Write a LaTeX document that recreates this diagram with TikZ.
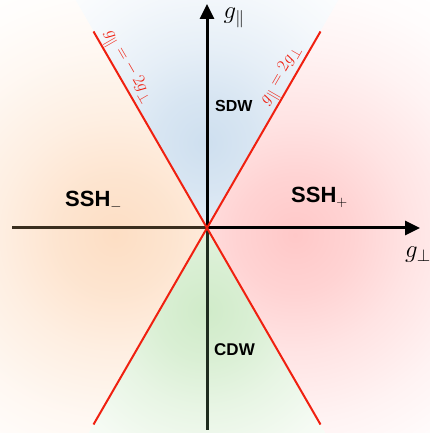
\documentclass[tikz,border=0pt]{standalone}
\usepackage{fontspec}
\newfontfamily\hfont{Liberation Sans}
\usetikzlibrary{arrows.meta}
\definecolor{cblue}{HTML}{CEDFEF}
\definecolor{cred}{HTML}{FFC8C8}
\definecolor{corange}{HTML}{FDDEC4}
\definecolor{cgreen}{HTML}{D0EBC9}
\definecolor{axbrown}{HTML}{3A2E1E}
\definecolor{axgreen}{HTML}{1E2C1E}
\definecolor{lred}{HTML}{F02010}
\pgfdeclareradialshading{glowblue}{\pgfpoint{0bp}{0bp}}{color(0bp)=(cblue); color(5bp)=(cblue!80!white); color(10bp)=(cblue!50!white); color(16bp)=(cblue!22!white); color(21bp)=(cblue!6!white); color(25bp)=(white); color(50bp)=(white)}
\pgfdeclareradialshading{glowred}{\pgfpoint{0bp}{0bp}}{color(0bp)=(cred); color(5bp)=(cred!80!white); color(10bp)=(cred!50!white); color(16bp)=(cred!22!white); color(21bp)=(cred!6!white); color(25bp)=(white); color(50bp)=(white)}
\pgfdeclareradialshading{gloworange}{\pgfpoint{0bp}{0bp}}{color(0bp)=(corange); color(5bp)=(corange!80!white); color(10bp)=(corange!50!white); color(16bp)=(corange!22!white); color(21bp)=(corange!6!white); color(25bp)=(white); color(50bp)=(white)}
\pgfdeclareradialshading{glowgreen}{\pgfpoint{0bp}{0bp}}{color(0bp)=(cgreen); color(5bp)=(cgreen!80!white); color(10bp)=(cgreen!50!white); color(16bp)=(cgreen!22!white); color(21bp)=(cgreen!6!white); color(25bp)=(white); color(50bp)=(white)}
\tikzset{
  axis/.style={line width=3pt,-{Triangle[length=15pt,width=14pt]}},
  axseg/.style={line width=3pt},
  redline/.style={draw=lred,line width=2pt},
  phase/.style={font=\hfont\bfseries,anchor=base west,inner sep=0pt},
  redlab/.style={text=lred,font=\fontsize{19}{19}\selectfont,inner sep=0pt},
  axlab/.style={font=\fontsize{24}{24}\selectfont,inner sep=0pt}
}
\begin{document}
\begin{tikzpicture}[x=1pt,y=1pt]
\fill[white] (0,0) rectangle (429,433);
\useasboundingbox (0,0) rectangle (429,433);
\coordinate (O) at (207,205);
% wedges with shading
\begin{scope}
\clip (O) -- ++(300,520) -- ++(-600,0) -- cycle;
\shade[shading=glowblue] (205,290) circle (240);
\end{scope}
\begin{scope}
\clip (O) -- ++(300,520) -- ++(300,-520) -- ++(-300,-520) -- cycle;
\shade[shading=glowred] (295,198) circle (290);
\end{scope}
\begin{scope}
\clip (O) -- ++(-300,520) -- ++(-300,-520) -- ++(300,-520) -- cycle;
\shade[shading=gloworange] (115,198) circle (290);
\end{scope}
\begin{scope}
\clip (O) -- ++(-300,-520) -- ++(600,0) -- cycle;
\shade[shading=glowgreen] (205,122) circle (240);
\end{scope}
% axes
\coordinate (hl) at (12,205);
\coordinate (hr) at (420,205);
\coordinate (vb) at (207,3);
\coordinate (vt) at (207,429);
\draw[axseg,color=axbrown] (hl) -- (O);
\draw[axis] (O) -- (hr);
\draw[axseg,color=axgreen] (vb) -- (O);
\draw[axis] (O) -- (vt);
% red lines
\coordinate (tr) at (320.5,401.5);
\coordinate (bl) at (93.5,8.5);
\coordinate (tl) at (93.5,401.5);
\coordinate (br) at (320.5,8.5);
\draw[redline] (bl) -- (tr);
\draw[redline] (br) -- (tl);
% labels
\node[axlab] (gpar) at (234,415) {$g_\parallel$};
\node[axlab] (gperp) at (418,178) {$g_\perp$};
\node[redlab,rotate=60] (l1) at (282,357) {$g_\parallel = 2g_\perp$};
\node[redlab,rotate=-60] (l2) at (127,366) {$g_\parallel = -\,2g_\perp$};
\node[phase,font=\hfont\bfseries\fontsize{16}{16}\selectfont] (sdw) at (215,321) {SDW};
\node[phase,font=\hfont\bfseries\fontsize{17}{17}\selectfont] (cdw) at (214,77) {CDW};
\node[phase,font=\hfont\bfseries\fontsize{22}{22}\selectfont] (sshp) at (291,230) {SSH$_{+}$};
\node[phase,font=\hfont\bfseries\fontsize{22}{22}\selectfont] (sshm) at (65,226) {SSH$_{-}$};
\end{tikzpicture}
\end{document}
